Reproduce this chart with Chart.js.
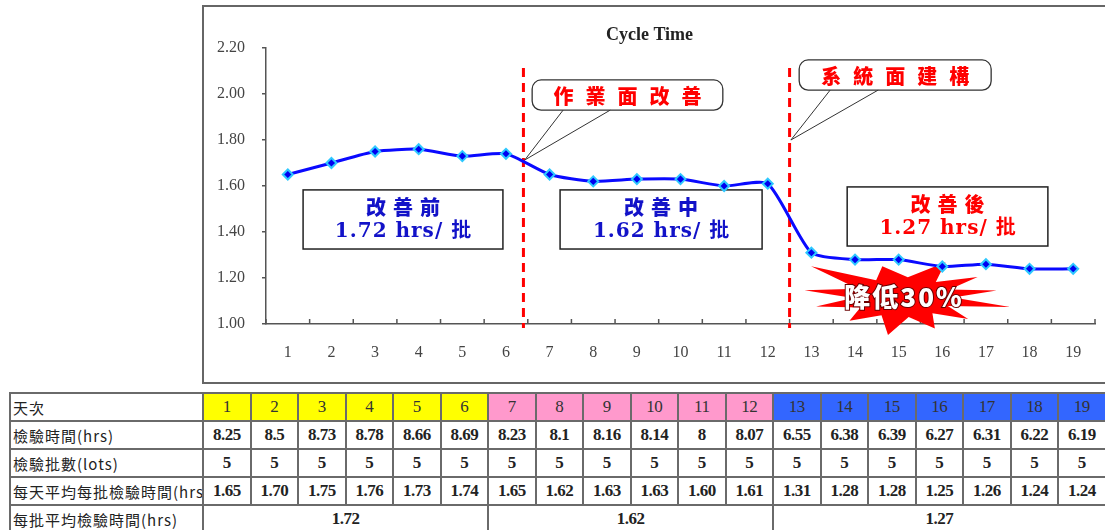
<!DOCTYPE html>
<html>
<head>
<meta charset="utf-8">
<script src="https://cdn.jsdelivr.net/npm/chart.js@4.4.1/dist/chart.umd.min.js"></script>
<style>
  html, body { margin: 0; padding: 0; background: #fff; width: 1105px; height: 530px; overflow: hidden; }
  #box { position: absolute; left: 202px; top: 5px; width: 920px; height: 375px; border: 2px solid #666; }
  #box canvas { position: absolute; left: 0; top: 0; }
  #tbl { position: absolute; left: 9px; top: 392px; width: 1096px; border-collapse: collapse; table-layout: fixed; border: 2px solid #222; }
  #tbl td { border: 2px solid #6a6a6a; height: 26px; padding: 0; text-align: center; white-space: nowrap; overflow: hidden;
            font: bold 17px "Liberation Serif", serif; letter-spacing: -0.5px; color: #222; }
  #tbl td.lab { text-align: left; padding-left: 2px; font: 15px "Noto Sans CJK TC", sans-serif; letter-spacing: 1px; color: #222; }
  #tbl td.hd { font: 17px "Liberation Serif", serif; color: #333; }
</style>
</head>
<body>
<div id="box"><canvas id="chart" width="901" height="375"></canvas></div>
<table id="tbl"></table>
<script>
// daily inspection data
const days = ['1', '2', '3', '4', '5', '6', '7', '8', '9', '10', '11', '12', '13', '14', '15', '16', '17', '18', '19'];
const inspectHours = [8.25, 8.5, 8.73, 8.78, 8.66, 8.69, 8.23, 8.1, 8.16, 8.14, 8, 8.07, 6.55, 6.38, 6.39, 6.27, 6.31, 6.22, 6.19];
const lotCounts = [5, 5, 5, 5, 5, 5, 5, 5, 5, 5, 5, 5, 5, 5, 5, 5, 5, 5, 5];
const hoursPerLot = [1.65, 1.70, 1.75, 1.76, 1.73, 1.74, 1.65, 1.62, 1.63, 1.63, 1.60, 1.61, 1.31, 1.28, 1.28, 1.25, 1.26, 1.24, 1.24];

// improvement phases
const phaseNames = ['改善前', '改善中', '改善後'];
const phaseDays = [6, 6, 7];
const phaseAvg = [1.72, 1.62, 1.27];
const callouts = ['作業面改善', '系統面建構'];
const reduction = '降低30%';

const yTicks = [1.0, 1.2, 1.4, 1.6, 1.8, 2.0, 2.2];

const SERIF = '"Liberation Serif", serif';
const CJK = '"Noto Sans CJK TC", sans-serif';
const headColors = ['#ffff00', '#ff99cc', '#3366ff'];
const boxColors = ['#1212c8', '#1212c8', '#ff0000'];

function phaseOf(i) {
  let acc = 0;
  for (let p = 0; p < phaseDays.length; p++) {
    acc += phaseDays[p];
    if (i < acc) return p;
  }
  return phaseDays.length - 1;
}

// draw text one character at a time so letter gaps can be widened
function spacedText(ctx, str, cx, cy, gap, stroke) {
  const chars = [...str];
  const widths = chars.map(c => ctx.measureText(c).width);
  const total = widths.reduce((a, b) => a + b, 0) + gap * (chars.length - 1);
  let px = cx - total / 2;
  ctx.textAlign = 'left';
  ctx.textBaseline = 'middle';
  chars.forEach((c, i) => {
    if (stroke) ctx.strokeText(c, px, cy);
    ctx.fillText(c, px, cy);
    px += widths[i] + gap;
  });
}

const annotate = {
  id: 'annotate',
  beforeDatasetsDraw(chart) {
    const { ctx, chartArea, scales: { x, y } } = chart;
    const P = (i, v) => [x.getPixelForValue(i), y.getPixelForValue(v)];
    ctx.save();

    // small inward tick marks on the category axis
    ctx.strokeStyle = '#555';
    ctx.lineWidth = 1.5;
    for (let i = 0; i <= days.length; i++) {
      const px = x.getPixelForValue(i - 0.5);
      ctx.beginPath();
      ctx.moveTo(px, chartArea.bottom);
      ctx.lineTo(px, chartArea.bottom - 5);
      ctx.stroke();
    }

    // phase dividers
    const dividers = [5.4, 11.5];
    ctx.strokeStyle = '#ff0000';
    ctx.lineWidth = 3;
    ctx.setLineDash([9, 6]);
    dividers.forEach(d => {
      ctx.beginPath();
      ctx.moveTo(x.getPixelForValue(d), y.getPixelForValue(2.113));
      ctx.lineTo(x.getPixelForValue(d), chartArea.bottom + 4);
      ctx.stroke();
    });
    ctx.setLineDash([]);

    // speech-bubble callouts at the dividers
    const bubbles = [
      { x1: 5.60, x2: 9.97, top: 2.061, bot: 1.930, b1: 6.31, b2: 7.39, tip: [5.43, 1.713] },
      { x1: 11.72, x2: 16.12, top: 2.148, bot: 2.017, b1: 12.43, b2: 13.53, tip: [11.53, 1.80] }
    ];
    bubbles.forEach((b, k) => {
      const [l, t] = P(b.x1, b.top);
      const [r, btm] = P(b.x2, b.bot);
      ctx.beginPath();
      ctx.roundRect(l, t, r - l, btm - t, 9);
      ctx.fillStyle = '#fff';
      ctx.fill();
      ctx.strokeStyle = '#333';
      ctx.lineWidth = 1.3;
      ctx.stroke();
      const [tx, ty] = P(b.tip[0], b.tip[1]);
      const p1 = x.getPixelForValue(b.b1), p2 = x.getPixelForValue(b.b2);
      ctx.lineWidth = 1;
      ctx.beginPath();
      ctx.moveTo(p1, btm);
      ctx.lineTo(tx, ty);
      ctx.lineTo(p2, btm);
      ctx.stroke();
      ctx.fillStyle = '#ff0000';
      ctx.font = '900 20px ' + CJK;
      spacedText(ctx, callouts[k], (l + r) / 2, (t + btm) / 2 + 1, 12);
    });

    // phase average boxes
    const boxes = [
      { x1: 0.35, x2: 4.93, top: 1.583, bot: 1.326 },
      { x1: 6.24, x2: 10.87, top: 1.583, bot: 1.326 },
      { x1: 12.82, x2: 17.42, top: 1.596, bot: 1.339 }
    ];
    boxes.forEach((b, k) => {
      const [l, t] = P(b.x1, b.top);
      const [r, btm] = P(b.x2, b.bot);
      ctx.fillStyle = '#fff';
      ctx.fillRect(l, t, r - l, btm - t);
      ctx.strokeStyle = '#222';
      ctx.lineWidth = 1.5;
      ctx.strokeRect(l, t, r - l, btm - t);
      const h = btm - t;
      ctx.fillStyle = boxColors[k];
      ctx.font = '900 20px ' + CJK;
      spacedText(ctx, phaseNames[k], (l + r) / 2, t + h * 0.29, 7);
      ctx.font = 'bold 20px "DejaVu Serif", ' + CJK;
      spacedText(ctx, phaseAvg[k].toFixed(2) + ' hrs/ 批', (l + r) / 2, t + h * 0.71, 1);
    });

    // red starburst with the reduction note
    const [cx, cy] = P(14.1, 1.117);
    const rx = 100, ry = 40;
    const spikes = [[10, 0.95], [34, 0.9], [64, 0.97], [105, 0.8], [140, 1.2], [170, 1.0],
                    [195, 0.9], [228, 0.8], [261, 0.96], [292, 0.85], [320, 0.85], [347, 1.1]];
    ctx.beginPath();
    spikes.forEach((s, i) => {
      const next = spikes[(i + 1) % spikes.length];
      let a2 = next[0];
      if (a2 < s[0]) a2 += 360;
      const a = s[0] * Math.PI / 180;
      const m = (s[0] + a2) / 2 * Math.PI / 180;
      const ox = cx + Math.cos(a) * rx * s[1], oy = cy - Math.sin(a) * ry * s[1];
      if (i === 0) ctx.moveTo(ox, oy); else ctx.lineTo(ox, oy);
      ctx.lineTo(cx + Math.cos(m) * rx * 0.5, cy - Math.sin(m) * ry * 0.5);
    });
    ctx.closePath();
    ctx.fillStyle = '#ff0000';
    ctx.fill();
    ctx.font = '900 26px ' + CJK;
    ctx.lineWidth = 2;
    ctx.strokeStyle = '#6a0000';
    ctx.fillStyle = '#fff';
    spacedText(ctx, reduction, cx, cy, 2, true);

    ctx.restore();
  }
};

new Chart(document.getElementById('chart'), {
  type: 'line',
  data: {
    labels: days,
    datasets: [{
      data: hoursPerLot,
      borderColor: '#0a0aff',
      borderWidth: 3,
      tension: 0.2,
      pointStyle: 'rectRot',
      pointRadius: 5,
      pointBackgroundColor: '#0000f0',
      pointBorderColor: '#2ec8ff',
      pointBorderWidth: 2
    }]
  },
  options: {
    responsive: false,
    animation: false,
    devicePixelRatio: 1,
    layout: { padding: { left: 0, right: 10, top: 0, bottom: 0 } },
    plugins: {
      legend: { display: false },
      tooltip: { enabled: false },
      title: {
        display: true,
        text: 'Cycle Time',
        color: '#222',
        font: { family: SERIF, size: 18, weight: 'bold' },
        padding: { top: 18, bottom: 1.4 }
      }
    },
    scales: {
      x: {
        type: 'category',
        offset: true,
        grid: { offset: true, drawOnChartArea: false, drawTicks: false },
        border: { color: '#555', width: 1.5 },
        ticks: { padding: 19, color: '#444', font: { family: SERIF, size: 16 } },
        afterFit: s => { s.height = 58; }
      },
      y: {
        min: yTicks[0],
        max: yTicks[yTicks.length - 1],
        afterBuildTicks: s => { s.ticks = yTicks.map(v => ({ value: v })); },
        grid: { drawOnChartArea: false, tickLength: 4, color: '#555', lineWidth: 1.5 },
        border: { color: '#555', width: 1.5 },
        ticks: { padding: 17, color: '#444', font: { family: SERIF, size: 16 }, callback: v => v.toFixed(2) },
        afterFit: s => { s.width = 62; }
      }
    }
  },
  plugins: [annotate]
});

// data table under the chart
const rows = [];
rows.push('<colgroup><col style="width:193px">' + days.map(() => '<col style="width:47.5px">').join('') + '</colgroup>');
rows.push('<tr><td class="lab">天次</td>' +
  days.map((d, i) => `<td class="hd" style="background:${headColors[phaseOf(i)]}">${d}</td>`).join('') + '</tr>');
rows.push('<tr><td class="lab">檢驗時間(hrs)</td>' + inspectHours.map(v => `<td>${v}</td>`).join('') + '</tr>');
rows.push('<tr><td class="lab">檢驗批數(lots)</td>' + lotCounts.map(v => `<td>${v}</td>`).join('') + '</tr>');
rows.push('<tr><td class="lab">每天平均每批檢驗時間(hrs)</td>' + hoursPerLot.map(v => `<td>${v.toFixed(2)}</td>`).join('') + '</tr>');
rows.push('<tr><td class="lab">每批平均檢驗時間(hrs)</td>' +
  phaseAvg.map((v, p) => `<td colspan="${phaseDays[p]}">${v.toFixed(2)}</td>`).join('') + '</tr>');
document.getElementById('tbl').innerHTML = rows.join('');
</script>
</body>
</html>
